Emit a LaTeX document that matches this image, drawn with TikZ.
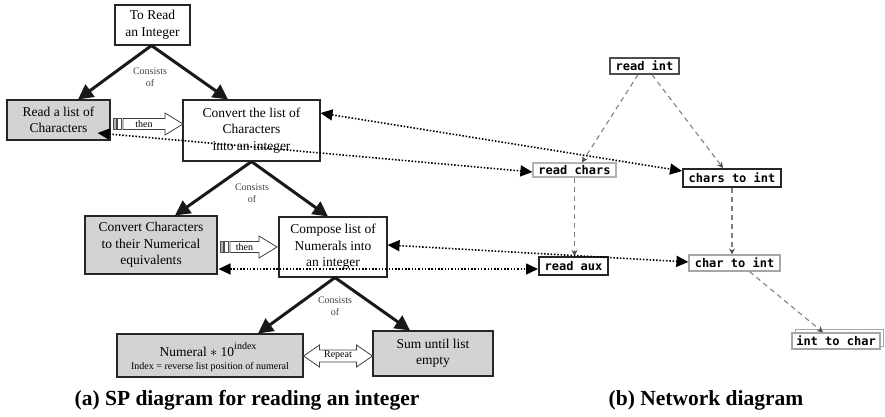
\documentclass[tikz,border=0pt]{standalone}
\usepackage{fontspec}
\setmainfont{Liberation Serif}
\newfontfamily\netfont{DejaVu Sans Mono}
\usetikzlibrary{arrows.meta,calc}
\definecolor{boxgray}{RGB}{211,211,211}
\newcommand\thenArrow[4]{% left x, tip x, center y, label
  \filldraw[fill=gray!60,draw=black!70,line width=0.6pt] (#1,#3-5.5) rectangle (#1+3,#3+5.5);
  \draw[black!70,line width=0.6pt] (#1+4,#3-5.5) rectangle (#1+8,#3+5.5);
  \draw[black!75,line width=0.8pt,fill=white] (#1+10,#3-5.5) -- (#2-18,#3-5.5) -- (#2-18,#3-11) -- (#2,#3) -- (#2-18,#3+11) -- (#2-18,#3+5.5) -- (#1+10,#3+5.5) -- cycle;
  \node[font=\fontsize{10}{12}\selectfont,inner sep=0pt] at ({(#1+10+#2-18)/2},#3) {#4};
}
\begin{document}
\begin{tikzpicture}[x=1pt,y=-1pt,
  spbox/.style={draw=black!85,line width=1.1pt,align=center,inner sep=0pt,
    font=\fontsize{13.5}{16.5}\selectfont},
  greybox/.style={spbox,fill=boxgray},
  consists/.style={-{Triangle[length=15pt,width=15pt]},line width=3pt,black!90},
  cons/.style={font=\fontsize{10}{12}\selectfont,align=center,text=black!75,inner sep=0pt},
  link/.style={line width=1.6pt,dash pattern=on 1.5pt off 1.8pt,
    {Triangle[length=12pt,width=11pt]}-{Triangle[length=12pt,width=11pt]}},
  netnode/.style={inner sep=0pt,fill=white,font=\netfont\bfseries\fontsize{12}{12}\selectfont},
  netedge/.style={gray,line width=1.1pt,dash pattern=on 5pt off 4pt,
    -{Stealth[length=6pt,width=6pt,black!70]}},
  caption/.style={font=\bfseries\fontsize{21.5}{24}\selectfont,inner sep=0pt}
]
\useasboundingbox (0,0) rectangle (885,417);

% ---------------- SP diagram ----------------
\node[spbox,minimum width=75pt,minimum height=40pt] (top) at (152.5,25) {To Read\\an Integer};
\node[greybox,minimum width=103pt,minimum height=40pt] (readlist) at (58.5,120) {Read a list of\\Characters};
\node[spbox,minimum width=137pt,minimum height=61pt] (convert) at (251.5,130.5) {Convert the list of\\Characters\\into an integer};
\node[greybox,minimum width=132pt,minimum height=58pt] (convchars) at (151,245) {Convert Characters\\to their Numerical\\equivalents};
\node[spbox,minimum width=108pt,minimum height=60pt] (compose) at (333,247) {Compose list of\\Numerals into\\an integer};
\node[greybox,minimum width=186pt,minimum height=43pt] (numeral) at (210,355.5) {};
\node[inner sep=0pt,font=\fontsize{13.5}{16}\selectfont] (numtext) at (208,350) {Numeral $\ast$ 10\raisebox{7pt}{\fontsize{10}{10}\selectfont index}};
\node[inner sep=0pt,font=\fontsize{10}{12}\selectfont] (numsub) at (210,367) {Index = reverse list position of numeral};
\node[greybox,minimum width=120pt,minimum height=45pt] (sum) at (433,353.5) {Sum until list\\empty};

\draw[consists] ([xshift=-1pt]top.south) -- ([xshift=19.5pt]readlist.north);
\draw[consists] ([xshift=-1pt]top.south) -- ([xshift=-23.5pt]convert.north);
\node[cons] (c1) at (150,77) {Consists\\of};
\draw[consists] (convert.south) -- ([xshift=24pt]convchars.north);
\draw[consists] (convert.south) -- ([xshift=-5pt]compose.north);
\node[cons] (c2) at (252,193) {Consists\\of};
\draw[consists] ([xshift=2pt]compose.south) -- ([xshift=48pt]numeral.north);
\draw[consists] ([xshift=2pt]compose.south) -- ([xshift=-23pt]sum.north);
\node[cons] (c3) at (335,306) {Consists\\of};

\thenArrow{113}{183}{124}{then}
\thenArrow{220}{277}{247}{then}

% Repeat double arrow
\draw[black!75,line width=0.8pt,fill=white]
  (numeral.east |- 0,356) -- ++(16,-11) -- ++(0,5) -- ([xshift=-16pt]sum.west |- 0,350) -- ++(0,-5)
  -- (sum.west |- 0,356) -- ++(-16,11) -- ++(0,-5) -- ([xshift=16pt]numeral.east |- 0,362) -- ++(0,5) -- cycle;
\node[font=\fontsize{10}{12}\selectfont,inner sep=0pt] (rep) at (338,355) {Repeat};

% ---------------- Network diagram ----------------
\node[netnode,draw=black!70,line width=1.2pt,minimum width=69pt,minimum height=16pt] (readint) at (644.5,66) {read int};
\node[netnode,draw=gray!60,line width=1.2pt,minimum width=83pt,minimum height=14pt] (readchars) at (574.5,170) {read chars};
\node[netnode,draw=black!85,line width=2pt,minimum width=98pt,minimum height=18pt] (charstoint) at (732,178) {chars to int};
\node[netnode,draw=black!85,line width=2pt,minimum width=69pt,minimum height=18pt] (readaux) at (573.5,266) {read aux};
\node[netnode,draw=gray!70,line width=1.2pt,minimum width=91pt,minimum height=16pt] (chartoint) at (734.5,263) {char to int};
\draw[gray!70,line width=1pt,fill=white] (795,329) rectangle (883,346);
\node[netnode,draw=gray!70,line width=1.2pt,minimum width=88pt,minimum height=16pt] (inttochar) at (836,341) {int to char};

\draw[netedge] ([xshift=-6.5pt]readint.south) -- ([xshift=7.5pt]readchars.north);
\draw[netedge] ([xshift=7.5pt]readint.south) -- ([xshift=-9pt]charstoint.north);
\draw[netedge] (readchars.south) -- (readchars.south |- readaux.north);
\draw[netedge] (charstoint.south) -- (charstoint.south |- chartoint.north);
\draw[netedge] ([xshift=15pt]chartoint.south) -- ([xshift=-13pt]inttochar.north);

% ---------------- links ----------------
\draw[link] ([yshift=17.5pt]convert.east) -- ([yshift=7pt]charstoint.west);
\draw[link] ([xshift=-13pt,yshift=-13pt]readlist.east) -- ([yshift=-2pt]readchars.west);
\draw[link] ([yshift=2pt]compose.east) -- ([yshift=1pt]chartoint.west);
\draw[link] ([xshift=1pt,yshift=-24pt]convchars.east) -- ([yshift=-3pt]readaux.west);

% ---------------- captions ----------------
\node[caption] (capa) at (247,400) {(a) SP diagram for reading an integer};
\node[caption] (capb) at (706,400) {(b) Network diagram};
\end{tikzpicture}
\end{document}
